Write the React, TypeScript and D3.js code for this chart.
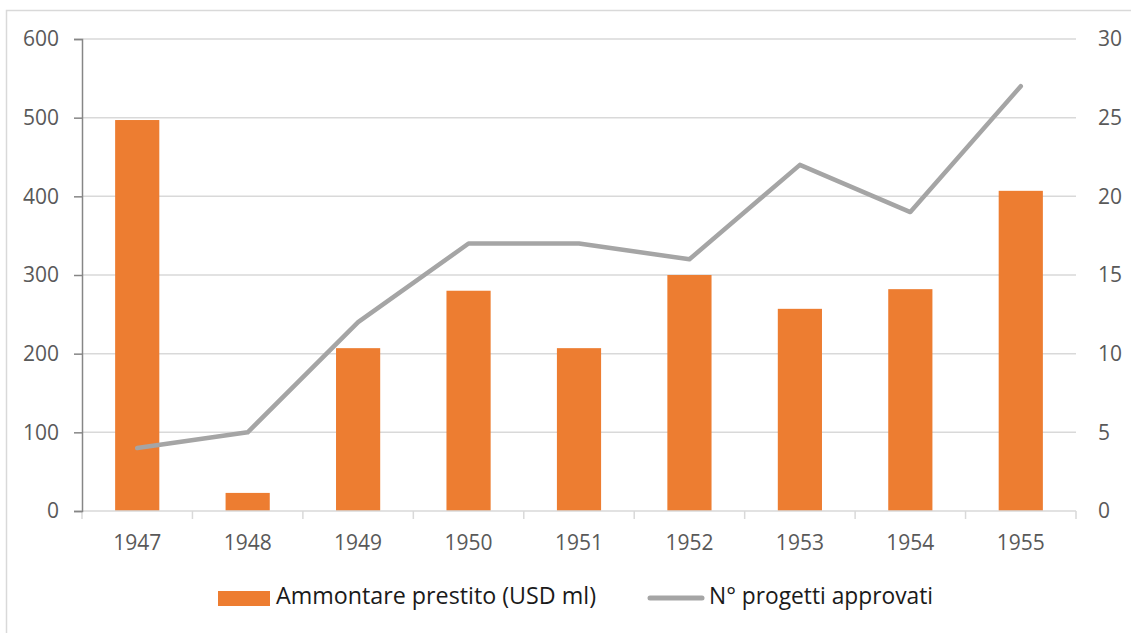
import { useRef, useEffect } from "react";
import * as d3 from "d3";

// data
const years = ["1947", "1948", "1949", "1950", "1951", "1952", "1953", "1954", "1955"];
const loanAmount = [497, 23, 207, 280, 207, 300, 257, 282, 407];
const projectsApproved = [4, 5, 12, 17, 17, 16, 22, 19, 27];
const leftTicks = [0, 100, 200, 300, 400, 500, 600];
const rightTicks = [0, 5, 10, 15, 20, 25, 30];
const barLabel = "Ammontare prestito (USD ml)";
const lineLabel = "N° progetti approvati";

export default function App() {
  const ref = useRef<SVGSVGElement>(null);

  function drawChart() {
    const width = 1131;
    const height = 633;
    const margin = { top: 39, right: 55, bottom: 122, left: 82 };
    const font = "'Open Sans', sans-serif";
    const textColor = "#595959";
    const tickFont = 21;

    const svg = d3.select(ref.current);
    svg.selectAll("*").remove();

    // chart frame
    svg
      .append("rect")
      .attr("x", 6.5)
      .attr("y", 10.5)
      .attr("width", width + 20)
      .attr("height", height + 20)
      .attr("fill", "#fff")
      .attr("stroke", "#d9d9d9")
      .attr("stroke-width", 1.5);

    const x = d3
      .scaleBand()
      .domain(years)
      .range([margin.left, width - margin.right]);
    const yLeft = d3
      .scaleLinear()
      .domain([0, 600])
      .range([height - margin.bottom, margin.top]);
    const yRight = d3
      .scaleLinear()
      .domain([0, 30])
      .range([height - margin.bottom, margin.top]);

    // gridlines
    svg
      .append("g")
      .selectAll("line")
      .data(leftTicks.filter((d) => d > 0))
      .join("line")
      .attr("x1", margin.left)
      .attr("x2", width - margin.right)
      .attr("y1", (d) => yLeft(d))
      .attr("y2", (d) => yLeft(d))
      .attr("stroke", "#d9d9d9")
      .attr("stroke-width", 1.5);

    // bars
    const barW = x.bandwidth() / 2.5;
    svg
      .append("g")
      .selectAll("rect")
      .data(loanAmount)
      .join("rect")
      .attr("x", (d, i) => x(years[i])! + (x.bandwidth() - barW) / 2)
      .attr("y", (d) => yLeft(d))
      .attr("width", barW)
      .attr("height", (d) => yLeft(0) - yLeft(d))
      .attr("fill", "#ED7D31");

    // x axis
    const gX = svg
      .append("g")
      .attr("transform", `translate(0,${height - margin.bottom})`)
      .call(d3.axisBottom(x).tickSize(0).tickPadding(24));
    gX.select(".domain").remove();
    gX.selectAll("text")
      .attr("font-family", font)
      .attr("font-size", tickFont)
      .attr("fill", textColor);
    gX.append("line")
      .attr("x1", margin.left)
      .attr("x2", width - margin.right)
      .attr("stroke", "#d9d9d9")
      .attr("stroke-width", 1.5);
    gX.selectAll(".sep")
      .data(d3.range(years.length + 1))
      .join("line")
      .attr("class", "sep")
      .attr("x1", (i) => margin.left + i * x.step())
      .attr("x2", (i) => margin.left + i * x.step())
      .attr("y1", 0)
      .attr("y2", 8)
      .attr("stroke", "#d9d9d9")
      .attr("stroke-width", 1.5);

    // left axis
    const gL = svg
      .append("g")
      .attr("transform", `translate(${margin.left},0)`)
      .call(d3.axisLeft(yLeft).tickValues(leftTicks).tickSize(8).tickPadding(15));
    gL.select(".domain").attr("stroke", "#868686").attr("stroke-width", 1.5);
    gL.selectAll(".tick line").attr("stroke", "#868686").attr("stroke-width", 1.5);
    gL.selectAll("text")
      .attr("font-family", font)
      .attr("font-size", tickFont)
      .attr("fill", textColor);

    // right axis (labels only)
    const gR = svg
      .append("g")
      .attr("transform", `translate(${width - margin.right},0)`)
      .call(d3.axisRight(yRight).tickValues(rightTicks).tickSize(0).tickPadding(22));
    gR.select(".domain").remove();
    gR.selectAll("text")
      .attr("font-family", font)
      .attr("font-size", tickFont)
      .attr("fill", textColor);

    // line
    const line = d3
      .line<number>()
      .x((d, i) => x(years[i])! + x.bandwidth() / 2)
      .y((d) => yRight(d));
    svg
      .append("path")
      .datum(projectsApproved)
      .attr("d", line)
      .attr("fill", "none")
      .attr("stroke", "#A5A5A5")
      .attr("stroke-width", 4.5)
      .attr("stroke-linecap", "round")
      .attr("stroke-linejoin", "round");

    // legend
    const legend = svg
      .append("g")
      .attr("font-family", font)
      .attr("font-size", 23)
      .attr("fill", "#1a1a1a");
    legend
      .append("rect")
      .attr("x", 218)
      .attr("y", 591)
      .attr("width", 52)
      .attr("height", 15)
      .attr("fill", "#ED7D31");
    legend
      .append("text")
      .attr("x", 276)
      .attr("y", 604)
      .attr("textLength", 320)
      .attr("lengthAdjust", "spacingAndGlyphs")
      .text(barLabel);
    legend
      .append("line")
      .attr("x1", 650)
      .attr("x2", 702)
      .attr("y1", 598)
      .attr("y2", 598)
      .attr("stroke", "#A5A5A5")
      .attr("stroke-width", 5)
      .attr("stroke-linecap", "round");
    legend
      .append("text")
      .attr("x", 709)
      .attr("y", 604)
      .attr("textLength", 224)
      .attr("lengthAdjust", "spacingAndGlyphs")
      .text(lineLabel);
  }

  useEffect(drawChart, []);
  return (
    <svg
      ref={ref}
      width={1131}
      height={633}
      style={{ position: "absolute", left: 0, top: 0, display: "block" }}
    />
  );
}
